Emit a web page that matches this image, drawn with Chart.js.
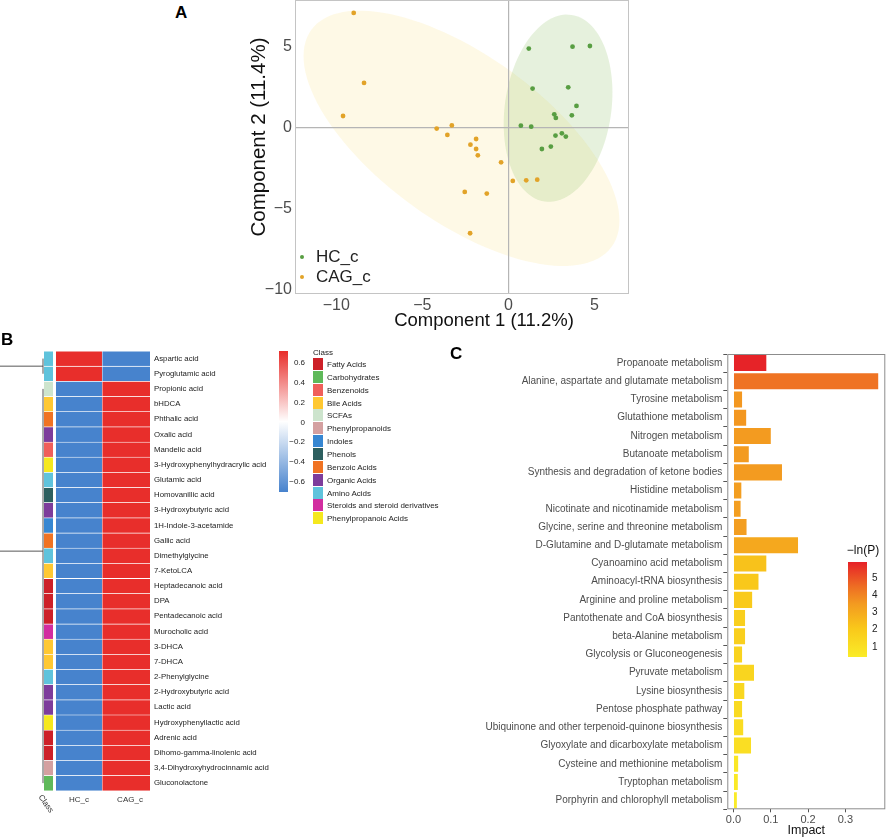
<!DOCTYPE html>
<html><head><meta charset="utf-8">
<script src="https://cdn.jsdelivr.net/npm/chart.js@4.4.1/dist/chart.umd.min.js"></script>
<style>
body{margin:0;width:886px;height:838px;position:relative;background:#fff;font-family:"Liberation Sans",Arial,sans-serif;overflow:hidden}
.abs{position:absolute;white-space:nowrap}
.box{position:absolute}
</style></head><body>
<div class="box" style="left:230px;top:-4px;width:410px;height:344px"><canvas id="chartA"></canvas></div>
<div class="box" style="left:0;top:330px;width:280px;height:508px"><canvas id="chartB"></canvas></div>
<div class="box" style="left:440px;top:340px;width:446px;height:498px"><canvas id="chartC"></canvas></div>
<div id="overlay"></div>
<script>
// ---------- Panel A data ----------
const groupNames = ['HC_c', 'CAG_c'];
const hcX = [1.18, 3.72, 4.73, 1.40, 3.47, 3.95, 2.66, 2.75, 3.68, 0.72, 1.32, 2.73, 3.10, 3.33, 2.46, 1.94];
const hcY = [4.90, 5.02, 5.06, 2.43, 2.51, 1.36, 0.84, 0.62, 0.78, 0.14, 0.08, -0.47, -0.33, -0.53, -1.15, -1.30];
const cagX = [-8.99, -8.39, -9.61, -4.17, -3.29, -3.55, -1.88, -2.21, -1.88, -1.78, -0.43, 0.25, 1.03, 1.67, -2.54, -1.26, -2.23];
const cagY = [7.10, 2.78, 0.74, -0.04, 0.16, -0.43, -0.68, -1.03, -1.30, -1.69, -2.12, -3.27, -3.23, -3.19, -3.95, -4.05, -6.50];
const axisTicksA = [-10, -5, 0, 5];
// confidence ellipses: centre and two half-axis vectors (data units)
const ellipseHC = [2.88, 1.22, 0.78, 5.76, 3.06, -0.47];
const ellipseCAG = [-2.73, -0.64, 8.72, -6.70, 2.85, 4.15];

// ---------- Panel B data ----------
const metabolites = ['Aspartic acid','Pyroglutamic acid','Propionic acid','bHDCA','Phthalic acid','Oxalic acid','Mandelic acid','3-Hydroxyphenylhydracrylic acid','Glutamic acid','Homovanillic acid','3-Hydroxybutyric acid','1H-Indole-3-acetamide','Gallic acid','Dimethylglycine','7-KetoLCA','Heptadecanoic acid','DPA','Pentadecanoic acid','Murocholic acid','3-DHCA','7-DHCA','2-Phenylglycine','2-Hydroxybutyric acid','Lactic acid','Hydroxyphenyllactic acid','Adrenic acid','Dihomo-gamma-linolenic acid','3,4-Dihydroxyhydrocinnamic acid','Gluconolactone'];
const metClass = ['Amino Acids','Amino Acids','SCFAs','Bile Acids','Benzoic Acids','Organic Acids','Benzenoids','Phenylpropanoic Acids','Amino Acids','Phenols','Organic Acids','Indoles','Benzoic Acids','Amino Acids','Bile Acids','Fatty Acids','Fatty Acids','Fatty Acids','Steroids and steroid derivatives','Bile Acids','Bile Acids','Amino Acids','Organic Acids','Organic Acids','Phenylpropanoic Acids','Fatty Acids','Fatty Acids','Phenylpropanoids','Carbohydrates'];
const hcValues = [0.707,0.707,-0.707,-0.707,-0.707,-0.707,-0.707,-0.707,-0.707,-0.707,-0.707,-0.707,-0.707,-0.707,-0.707,-0.707,-0.707,-0.707,-0.707,-0.707,-0.707,-0.707,-0.707,-0.707,-0.707,-0.707,-0.707,-0.707,-0.707];
const cagValues = [-0.707,-0.707,0.707,0.707,0.707,0.707,0.707,0.707,0.707,0.707,0.707,0.707,0.707,0.707,0.707,0.707,0.707,0.707,0.707,0.707,0.707,0.707,0.707,0.707,0.707,0.707,0.707,0.707,0.707];
const heatColumns = ['Class','HC_c','CAG_c'];
const classNames = ['Fatty Acids','Carbohydrates','Benzenoids','Bile Acids','SCFAs','Phenylpropanoids','Indoles','Phenols','Benzoic Acids','Organic Acids','Amino Acids','Steroids and steroid derivatives','Phenylpropanoic Acids'];
const heatTicks = [0.6, 0.4, 0.2, 0, -0.2, -0.4, -0.6];
const dendroJoins = [0.5, 12.7];

// ---------- Panel C data ----------
const pathways = ['Propanoate metabolism','Alanine, aspartate and glutamate metabolism','Tyrosine metabolism','Glutathione metabolism','Nitrogen metabolism','Butanoate metabolism','Synthesis and degradation of ketone bodies','Histidine metabolism','Nicotinate and nicotinamide metabolism','Glycine, serine and threonine metabolism','D-Glutamine and D-glutamate metabolism','Cyanoamino acid metabolism','Aminoacyl-tRNA biosynthesis','Arginine and proline metabolism','Pantothenate and CoA biosynthesis','beta-Alanine metabolism','Glycolysis or Gluconeogenesis','Pyruvate metabolism','Lysine biosynthesis','Pentose phosphate pathway','Ubiquinone and other terpenoid-quinone biosynthesis','Glyoxylate and dicarboxylate metabolism','Cysteine and methionine metabolism','Tryptophan metabolism','Porphyrin and chlorophyll metabolism'];
const impact = [0.088,0.388,0.023,0.034,0.100,0.041,0.130,0.021,0.019,0.035,0.173,0.088,0.067,0.050,0.031,0.031,0.023,0.055,0.029,0.023,0.026,0.047,0.0125,0.0116,0.009];
const negLnP = [5.8,4.3,3.5,3.5,3.4,3.4,3.4,3.3,3.3,3.3,3.0,2.2,2.0,1.9,1.7,1.7,1.5,1.4,1.3,1.2,1.1,1.0,0.6,0.5,0.4];
const impactTicks = [0, 0.1, 0.2, 0.3];
const pTicks = [5, 4, 3, 2, 1];

// ---------- styles ----------
const classColors = {'Fatty Acids':'rgb(205,32,40)','Carbohydrates':'rgb(95,185,90)','Benzenoids':'rgb(240,95,90)','Bile Acids':'rgb(255,200,50)','SCFAs':'rgb(205,228,205)','Phenylpropanoids':'rgb(212,160,160)','Indoles':'rgb(55,135,210)','Phenols':'rgb(45,95,95)','Benzoic Acids':'rgb(240,115,35)','Organic Acids':'rgb(125,60,155)','Amino Acids':'rgb(95,195,220)','Steroids and steroid derivatives':'rgb(210,45,160)','Phenylpropanoic Acids':'rgb(245,232,30)'};
const FONT = '"Liberation Sans", Arial, sans-serif';
Chart.defaults.font.family = FONT;
Chart.defaults.animation = false;

function lerp(a,b,t){return a.map((v,i)=>Math.round(v+(b[i]-v)*t));}
function heatColor(v){
  const blue=[70,130,205], white=[255,255,255], red=[232,45,42];
  const t=Math.min(1,Math.abs(v)/0.71);
  const c = v>=0 ? lerp(white,red,t) : lerp(white,blue,t);
  return `rgb(${c})`;
}
const pStops=[[0.36,[250,236,40]],[2.0,[249,200,26]],[3.4,[243,155,32]],[4.4,[238,110,35]],[5.83,[230,33,40]]];
function pColor(v){
  for(let i=0;i<pStops.length-1;i++){
    const [a,ca]=pStops[i],[b,cb]=pStops[i+1];
    if(v<=b||i===pStops.length-2){const t=Math.max(0,Math.min(1,(v-a)/(b-a)));return `rgb(${lerp(ca,cb,t)})`;}
  }
}
const fmtMinus = v => v<0 ? '\u2212'+Math.abs(v) : String(v);
const noPadV = s => { s.paddingTop = 0; s.paddingBottom = 0; };
const noPadH = s => { s.paddingLeft = 0; s.paddingRight = 0; };

// ---------- Panel A ----------
const ellipsePlugin = {
  id:'ellipses',
  beforeDraw(chart){
    const {ctx, chartArea:a, scales:{x,y}} = chart;
    ctx.save();
    ctx.beginPath(); ctx.rect(a.left,a.top,a.right-a.left,a.bottom-a.top); ctx.clip();
    [[ellipseCAG,'rgba(250,225,130,0.2)'],[ellipseHC,'rgba(140,190,100,0.22)']].forEach(([e,col])=>{
      const [cx,cy,ax,ay,bx,by]=e;
      ctx.beginPath();
      for(let k=0;k<=120;k++){
        const th=k/120*2*Math.PI;
        const px=x.getPixelForValue(cx+ax*Math.cos(th)+bx*Math.sin(th));
        const py=y.getPixelForValue(cy+ay*Math.cos(th)+by*Math.sin(th));
        k?ctx.lineTo(px,py):ctx.moveTo(px,py);
      }
      ctx.closePath(); ctx.fillStyle=col; ctx.fill();
    });
    ctx.restore();
  }
};
const frameA = {
  id:'frameA',
  afterDraw(chart){
    const {ctx, chartArea:a}=chart;
    ctx.save(); ctx.strokeStyle='#c4c4c4'; ctx.lineWidth=1;
    ctx.strokeRect(a.left+0.5,a.top+0.5,a.right-a.left-1,a.bottom-a.top-1);
    ctx.restore();
  }
};
new Chart(document.getElementById('chartA'),{
  type:'scatter',
  data:{datasets:[
    {label:groupNames[0],data:hcX.map((v,i)=>({x:v,y:hcY[i]})),backgroundColor:'rgb(88,158,66)',borderWidth:0,pointRadius:2.4},
    {label:groupNames[1],data:cagX.map((v,i)=>({x:v,y:cagY[i]})),backgroundColor:'rgb(226,163,40)',borderWidth:0,pointRadius:2.4}
  ]},
  options:{
    responsive:true,maintainAspectRatio:false,
    layout:{padding:{left:0,right:11,top:0,bottom:0}},
    plugins:{legend:{display:false},tooltip:{enabled:false}},
    scales:{
      x:{type:'linear',min:-12.4,max:7.0,
        afterBuildTicks:s=>{s.ticks=axisTicksA.map(v=>({value:v}));},
        afterFit:s=>{s.height=46; noPadH(s);},
        ticks:{callback:fmtMinus,color:'#4d4d4d',font:{size:16},padding:2,maxRotation:0,autoSkip:false},
        grid:{drawTicks:false,color:c=>(c.tick&&c.tick.value===0)?'#b5b5b5':'rgba(0,0,0,0)',lineWidth:1.2},
        border:{display:false}},
      y:{type:'linear',min:-10.25,max:7.9,
        afterBuildTicks:s=>{s.ticks=axisTicksA.map(v=>({value:v}));},
        afterFit:s=>{s.width=65; noPadV(s);},
        ticks:{callback:fmtMinus,color:'#4d4d4d',font:{size:16},padding:3,autoSkip:false},
        grid:{drawTicks:false,color:c=>(c.tick&&c.tick.value===0)?'#b5b5b5':'rgba(0,0,0,0)',lineWidth:1.2},
        border:{display:false}}
    }
  },
  plugins:[ellipsePlugin,frameA]
});

// ---------- Panel B ----------
const colSpan = {Class:[0,0.085], HC_c:[0.113,0.547], CAG_c:[0.547,1]};
const dendroPlugin = {
  id:'dendro',
  afterDraw(chart){
    const {ctx, chartArea:a, scales:{y}}=chart;
    const xL=a.left-1;
    ctx.save(); ctx.strokeStyle='#444'; ctx.lineWidth=0.9;
    ctx.beginPath();
    ctx.moveTo(xL,y.getPixelForValue(0)); ctx.lineTo(xL,y.getPixelForValue(1));
    ctx.moveTo(0,y.getPixelForValue(dendroJoins[0])); ctx.lineTo(xL,y.getPixelForValue(dendroJoins[0]));
    ctx.moveTo(xL,y.getPixelForValue(2)); ctx.lineTo(xL,y.getPixelForValue(metabolites.length-1));
    ctx.moveTo(0,y.getPixelForValue(dendroJoins[1])); ctx.lineTo(xL,y.getPixelForValue(dendroJoins[1]));
    ctx.stroke(); ctx.restore();
  }
};
const heatBase = {categoryPercentage:1,barPercentage:1,grouped:false,borderColor:'#ffffff',borderSkipped:false};
new Chart(document.getElementById('chartB'),{
  type:'bar',
  data:{labels:metabolites,datasets:[
    Object.assign({label:heatColumns[0],data:metabolites.map(()=>colSpan.Class),backgroundColor:metClass.map(c=>classColors[c]),borderWidth:{top:0.8,bottom:0,left:0,right:0}},heatBase),
    Object.assign({label:heatColumns[1],data:metabolites.map(()=>colSpan.HC_c),backgroundColor:hcValues.map(heatColor),borderWidth:{top:0.8,bottom:0,left:0,right:0}},heatBase),
    Object.assign({label:heatColumns[2],data:metabolites.map(()=>colSpan.CAG_c),backgroundColor:cagValues.map(heatColor),borderWidth:{top:0.8,bottom:0,left:0.8,right:0}},heatBase)
  ]},
  options:{
    indexAxis:'y',responsive:true,maintainAspectRatio:false,
    layout:{padding:{left:44,right:0,top:21,bottom:47.3}},
    plugins:{legend:{display:false},tooltip:{enabled:false}},
    scales:{
      x:{type:'linear',min:0,max:1,display:false},
      y:{type:'category',position:'right',offset:true,
        afterFit:s=>{s.width=130; noPadV(s);},
        ticks:{color:'#222',font:{size:7.8},padding:4,autoSkip:false},
        grid:{display:false,drawTicks:false},border:{display:false}}
    }
  },
  plugins:[dendroPlugin]
});

// ---------- Panel C ----------
const frameC = {
  id:'frameC',
  afterDraw(chart){
    const {ctx, chartArea:a}=chart;
    ctx.save(); ctx.strokeStyle='#8c8c8c'; ctx.lineWidth=1;
    ctx.strokeRect(a.left+0.5,a.top+0.5,a.right-a.left-1,a.bottom-a.top-1);
    ctx.restore();
  }
};
new Chart(document.getElementById('chartC'),{
  type:'bar',
  data:{labels:pathways,datasets:[{label:'Impact',data:impact,backgroundColor:negLnP.map(pColor),barPercentage:0.88,categoryPercentage:1,borderWidth:0}]},
  options:{
    indexAxis:'y',responsive:true,maintainAspectRatio:false,
    layout:{padding:{left:0,right:0.7,top:14,bottom:0}},
    plugins:{legend:{display:false},tooltip:{enabled:false}},
    scales:{
      x:{type:'linear',min:-0.0166,max:0.407,
        afterBuildTicks:s=>{s.ticks=impactTicks.map(v=>({value:v}));},
        afterFit:s=>{s.height=28.7; noPadH(s);},
        ticks:{callback:v=>v.toFixed(1),color:'#4d4d4d',font:{size:11},padding:1,maxRotation:0,autoSkip:false},
        title:{display:true,text:'Impact',color:'#111',font:{size:12.5},padding:0},
        grid:{drawOnChartArea:false,tickLength:3,color:'#555'},border:{display:false}},
      y:{type:'category',offset:true,
        afterFit:s=>{s.width=287.3; noPadV(s);},
        ticks:{color:'#4d4d4d',font:{size:10},padding:1,autoSkip:false},
        grid:{drawOnChartArea:false,tickLength:4,color:'#555'},border:{display:false}}
    }
  },
  plugins:[frameC]
});

// ---------- HTML overlays (labels, legends) ----------
const ov=document.getElementById('overlay');
function add(html,style){const d=document.createElement('div');d.className='abs';d.style.cssText=style;d.innerHTML=html;ov.appendChild(d);return d;}
// panel letters
add('A','left:175px;top:3px;font-weight:bold;font-size:17px;');
add('B','left:1px;top:330px;font-weight:bold;font-size:17px;');
add('C','left:450px;top:344px;font-weight:bold;font-size:17px;');
// panel A axis titles and legend
add('Component 1 (11.2%)','left:484px;top:320px;transform:translate(-50%,-50%);font-size:18.5px;color:#111;');
add('Component 2 (11.4%)','left:258px;top:137px;transform:translate(-50%,-50%) rotate(-90deg);font-size:20.5px;color:#111;');
[['rgb(88,158,66)',257],['rgb(226,163,40)',277]].forEach(([c,y],i)=>{
  add('',`left:${302-2.4}px;top:${y-2.4}px;width:4.8px;height:4.8px;border-radius:50%;background:${c};`);
  add(groupNames[i],`left:316px;top:${y}px;transform:translateY(-50%);font-size:17px;color:#222;`);
});
// panel B column labels
add(heatColumns[1],'left:79px;top:799px;transform:translate(-50%,-50%);font-size:8px;color:#333;');
add(heatColumns[2],'left:130px;top:799px;transform:translate(-50%,-50%);font-size:8px;color:#333;');
add(heatColumns[0],'left:44px;top:793px;transform-origin:0 0;transform:rotate(55deg);font-size:8px;color:#333;');
// panel B colour bar
add('',`left:279px;top:351px;width:9px;height:141px;background:linear-gradient(to bottom,${heatColor(0.71)},${heatColor(0)} 50%,${heatColor(-0.71)});`);
heatTicks.forEach(v=>{
  const y=421.5-v*99.3;
  add(fmtMinus(v),`top:${y}px;transform:translateY(-50%);font-size:8px;color:#222;width:24px;text-align:right;left:281px;`);
});
// panel B class legend
add('Class','left:313px;top:352px;transform:translateY(-50%);font-size:8px;color:#222;');
classNames.forEach((n,i)=>{
  const y=364+12.85*i;
  add('',`left:313px;top:${y-6}px;width:10px;height:12px;background:${classColors[n]};`);
  add(n,`left:327px;top:${y}px;transform:translateY(-50%);font-size:8px;color:#222;`);
});
// panel C colour bar
const grad=pStops.slice().reverse().map(([v,c])=>`rgb(${c}) ${((5.83-v)/(5.83-0.36)*100).toFixed(1)}%`).join(',');
add('−ln(P)','left:863px;top:550px;transform:translate(-50%,-50%);font-size:12px;color:#111;');
add('',`left:848px;top:562px;width:19px;height:95px;background:linear-gradient(to bottom,${grad});`);
pTicks.forEach(v=>{
  const y=645.7-(v-1)*17.3;
  add(String(v),`left:872px;top:${y}px;transform:translateY(-50%);font-size:10px;color:#222;`);
});
</script>
</body></html>
